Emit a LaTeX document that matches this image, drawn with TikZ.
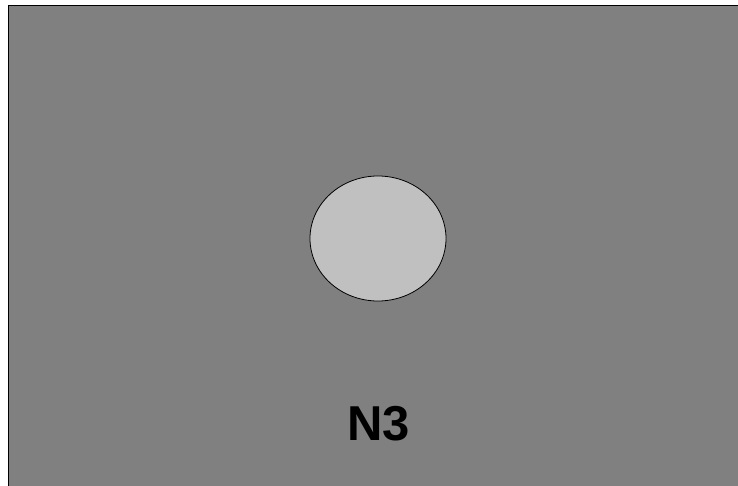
\documentclass[tikz,border=0pt]{standalone}
\usepackage{fontspec}
\setmainfont{Liberation Sans}
\usepackage{xcolor}
\usepackage{tikz}
\usetikzlibrary{shapes.geometric, positioning, calc}
\definecolor{areagray}{RGB}{128,128,128}
\definecolor{cellgray}{RGB}{192,192,192}

\begin{document}
\begin{tikzpicture}[
  x=1pt, y=1pt,
  area/.style={rectangle, draw=black, fill=areagray, line width=1pt},
  cell/.style={ellipse, draw=black, fill=cellgray, line width=0.8pt,
    minimum width=136pt, minimum height=125pt, inner sep=0pt},
  cellname/.style={font=\fontsize{49}{49}\selectfont\bfseries, text=black, inner sep=0pt},
]
  \useasboundingbox (0,0) rectangle (738,485);
  % Background region
  \draw[area] (8.5,-5) rectangle (745,479.5);

  % Cell and its name
  \node[cell] (cellc) at (378,246.5) {};
  \node[cellname] (name) at (378.5,61) {N3};
\end{tikzpicture}
\end{document}
